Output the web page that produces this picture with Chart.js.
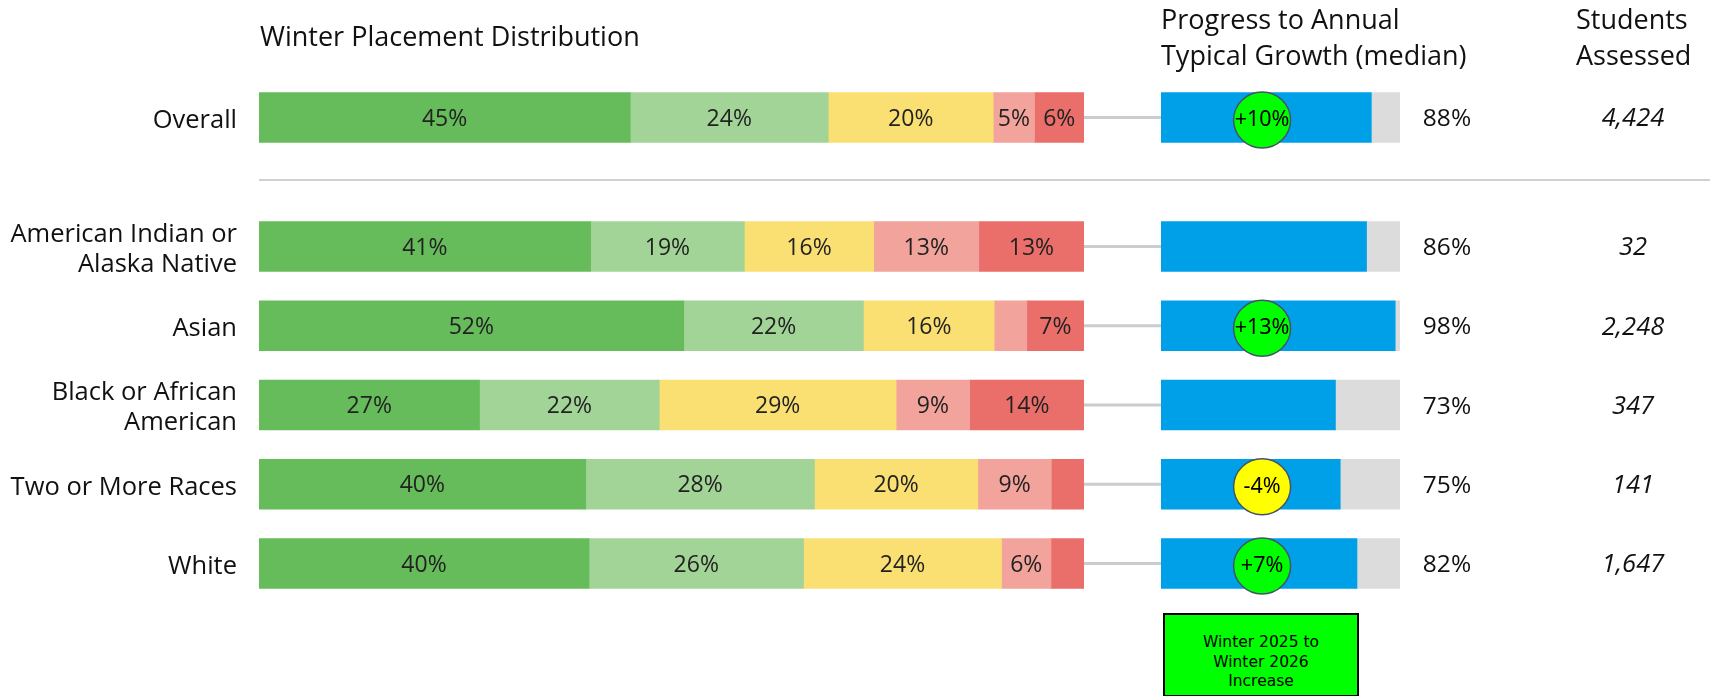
<!DOCTYPE html>
<html>
<head>
<meta charset="utf-8">
<script src="https://cdn.jsdelivr.net/npm/chart.js@4.4.1/dist/chart.umd.min.js"></script>
<style>
html,body{margin:0;padding:0;background:#fff;width:1713px;height:696px;overflow:hidden;font-family:'Open Sans',sans-serif;color:#111;}
#wrap{position:relative;width:1713px;height:696px;}
canvas{position:absolute;top:0;}
.hdr{position:absolute;font-size:27px;line-height:36px;color:#111;white-space:nowrap;}
#sep{position:absolute;left:259px;top:179px;width:1451px;height:2px;background:#d0d0d0;}
#legend{position:absolute;left:1163px;top:613px;width:192px;height:80px;border:2px solid #000;background:#00ff00;
  font-family:'DejaVu Sans',sans-serif;font-size:15.5px;line-height:19.5px;text-align:center;color:#000;}
#legend div{padding-top:18px;}
</style>
</head>
<body>
<div id="wrap">
  <canvas id="placement" width="1120" height="696" style="left:0"></canvas>
  <canvas id="progress" width="629" height="696" style="left:1084px"></canvas>
  <div class="hdr" style="left:260px;top:18px;">Winter Placement Distribution</div>
  <div class="hdr" style="left:1161px;top:1px;">Progress to Annual<br>Typical Growth (median)</div>
  <div class="hdr" style="left:1576px;top:1px;">Students<br>Assessed</div>
  <div id="sep"></div>
  <div id="legend"><div>Winter 2025 to<br>Winter 2026<br>Increase</div></div>
</div>
<script>
// ---- data ----
const categories = [['Overall'], ['American Indian or', 'Alaska Native'], ['Asian'], ['Black or African', 'American'], ['Two or More Races'], ['White']];
const levelNames = ['Mid or Above Grade Level', 'Early On Grade Level', 'One Grade Level Below', 'Two Grade Levels Below', 'Three or More Grade Levels Below'];
const midAbove   = [45, 41, 52, 27, 40, 40];
const earlyOn    = [24, 19, 22, 22, 28, 26];
const oneBelow   = [20, 16, 16, 29, 20, 24];
const twoBelow   = [5, 13, 4, 9, 9, 6];
const threeBelow = [6, 13, 7, 14, 4, 4];
const progressMedian = [88, 86, 98, 73, 75, 82];
const changeVsLastYear = [10, null, 13, null, -4, 7];
const studentsAssessed = ['4,424', '32', '2,248', '347', '141', '1,647'];

// ---- layout / style ----
const H = 696, ROW_PX = 79.25, ROW0 = 117.5, GAP = 0.628, BAR = 50;
const rowPos = categories.map((_, i) => i === 0 ? 0 : i + GAP);
const levelColors = ['#66bb5a', '#a3d497', '#fadf73', '#f2a39b', '#ea6e69'];
const placement = [midAbove, earlyOn, oneBelow, twoBelow, threeBelow];
const totals = categories.map((_, i) => placement.reduce((s, a) => s + a[i], 0));

function yAxis(showLabels) {
  return {
    type: 'linear', reverse: true, stacked: true, offset: false, grace: 0,
    min: -ROW0 / ROW_PX, max: (H - ROW0) / ROW_PX,
    afterBuildTicks: s => { s.ticks = rowPos.map(v => ({ value: v })); },
    afterFit: s => { s.width = showLabels ? 259 : 0; s.paddingTop = 0; s.paddingBottom = 0; },
    grid: { display: false, drawTicks: false }, border: { display: false },
    ticks: { display: showLabels, autoSkip: false, padding: 22, labelOffset: 3, color: '#111',
      font: { family: 'Open Sans', size: 25.5, lineHeight: 1.16 },
      callback: (v, i) => categories[i] }
  };
}

const segLabels = {
  id: 'segLabels',
  afterDatasetsDraw(chart) {
    const ctx = chart.ctx; ctx.save();
    ctx.font = '23px "Open Sans"'; ctx.fillStyle = '#222';
    ctx.textAlign = 'center'; ctx.textBaseline = 'middle';
    placement.forEach((arr, d) => {
      chart.getDatasetMeta(d).data.forEach((el, i) => {
        if (arr[i] < 5) return;
        const c = el.getCenterPoint();
        ctx.fillText(arr[i] + '%', c.x, c.y + 1.5);
      });
    });
    ctx.restore();
  }
};

new Chart(document.getElementById('placement'), {
  type: 'bar',
  data: {
    datasets: placement.map((arr, d) => ({
      label: levelNames[d],
      data: arr.map((v, i) => ({ x: v / totals[i] * 100, y: rowPos[i] })),
      backgroundColor: levelColors[d], borderWidth: 0, barThickness: BAR
    }))
  },
  options: {
    indexAxis: 'y', responsive: false, animation: false, devicePixelRatio: 1,
    layout: { padding: { left: 0, right: 36, top: 0, bottom: 0 } },
    plugins: { legend: { display: false }, tooltip: { enabled: false } },
    scales: {
      x: { type: 'linear', min: 0, max: 100, stacked: true, display: false },
      y: yAxis(true)
    }
  },
  plugins: [segLabels]
});

const progressDecor = {
  id: 'progressDecor',
  beforeDatasetsDraw(chart) {
    const ctx = chart.ctx, y = chart.scales.y, a = chart.chartArea;
    ctx.save(); ctx.strokeStyle = '#cccccc'; ctx.lineWidth = 3;
    rowPos.forEach(p => { const py = y.getPixelForValue(p); ctx.beginPath(); ctx.moveTo(0, py); ctx.lineTo(a.left, py); ctx.stroke(); });
    ctx.restore();
  },
  afterDatasetsDraw(chart) {
    const ctx = chart.ctx, y = chart.scales.y, a = chart.chartArea;
    ctx.save();
    ctx.textAlign = 'center'; ctx.textBaseline = 'middle';
    rowPos.forEach((p, i) => {
      const py = y.getPixelForValue(p);
      const ch = changeVsLastYear[i];
      if (ch !== null) {
        const cx = a.left + 0.423 * (a.right - a.left), cy = py + 2.5;
        ctx.beginPath(); ctx.ellipse(cx, cy, 28.5, 28, 0, 0, Math.PI * 2);
        ctx.fillStyle = ch >= 0 ? '#00ff00' : '#ffff00'; ctx.fill();
        ctx.lineWidth = 1.5; ctx.strokeStyle = '#44546a'; ctx.stroke();
        ctx.fillStyle = '#000'; ctx.font = '21.5px "Noto Sans"';
        ctx.fillText((ch > 0 ? '+' : '') + ch + '%', cx, cy);
      }
      ctx.fillStyle = '#111'; ctx.font = '24.5px "Open Sans"';
      ctx.fillText(progressMedian[i] + '%', 1447 - 1084, py + 1.5);
      ctx.font = 'italic 25.5px "Open Sans"';
      ctx.fillText(studentsAssessed[i], 1633 - 1084, py + 1.5);
    });
    ctx.restore();
  }
};

new Chart(document.getElementById('progress'), {
  type: 'bar',
  data: {
    datasets: [
      { label: 'Progress to Annual Typical Growth (median)',
        data: progressMedian.map((v, i) => ({ x: v, y: rowPos[i] })),
        backgroundColor: '#00a0e9', borderWidth: 0, barThickness: BAR },
      { label: 'Remaining',
        data: progressMedian.map((v, i) => ({ x: 100 - v, y: rowPos[i] })),
        backgroundColor: '#dcdcdc', borderWidth: 0, barThickness: BAR }
    ]
  },
  options: {
    indexAxis: 'y', responsive: false, animation: false, devicePixelRatio: 1,
    layout: { padding: { left: 77, right: 313, top: 0, bottom: 0 } },
    plugins: { legend: { display: false }, tooltip: { enabled: false } },
    scales: {
      x: { type: 'linear', min: 0, max: 100, stacked: true, display: false },
      y: yAxis(false)
    }
  },
  plugins: [progressDecor]
});
</script>
</body>
</html>
